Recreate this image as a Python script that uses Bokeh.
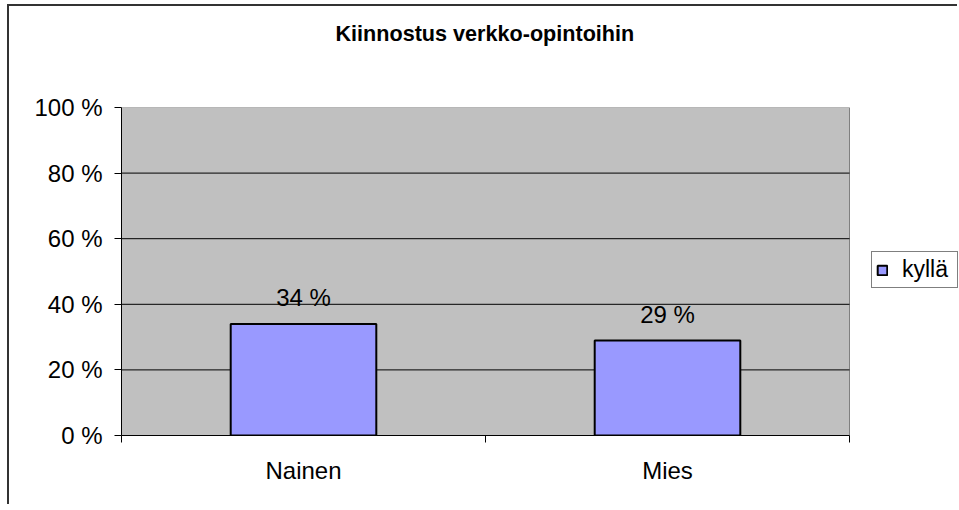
from bokeh.plotting import figure
from bokeh.models import (Range1d, LinearAxis, FixedTicker, Title, BoxAnnotation,
                          PrintfTickFormatter, Legend, LegendItem, ColumnDataSource)
from bokeh.core.properties import value
from bokeh.embed import file_html
from bokeh.resources import INLINE

title_text = "Kiinnostus verkko-opintoihin"
categories = ["Nainen", "Mies"]
values = [34, 29]
series_name = "kyllä"
y_ticks = [0, 20, 40, 60, 80, 100]
y_max = 100

FONT = "Liberation Sans"

# layout constants (pixels)
W, H = 950, 500
LEFT, TOP, BOTTOM = 112, 101, 71
PLOT_W = 728                      # width of the grey plot area
FRAME_W = W - LEFT                # frame reaches the right edge (legend lives inside)

n = len(categories)
xpos = [i + 0.5 for i in range(n)]
source = ColumnDataSource(dict(x=xpos, val=values,
                               lab=[f"{v} %" for v in values]))
grid_vals = y_ticks[1:-1]
grid_src = ColumnDataSource(dict(x0=[0] * len(grid_vals), x1=[n] * len(grid_vals),
                                 y=grid_vals))

p = figure(x_range=Range1d(0, n * FRAME_W / PLOT_W), y_range=Range1d(0, y_max),
           width=W, height=H, output_backend="svg", toolbar_location=None,
           x_axis_location=None, y_axis_location=None, title=None,
           min_border_left=LEFT, min_border_right=0, min_border_top=TOP,
           min_border_bottom=BOTTOM)
p.styles = {"margin-top": "4px", "margin-left": "7px",
            "border-top": "2px solid #333", "border-left": "2px solid #333"}

p.background_fill_color = "white"
p.border_fill_color = "white"
p.outline_line_color = None

# grey plot area
p.add_layout(BoxAnnotation(left=0, right=n, bottom=0, top=y_max, level="image",
                           fill_color="#C0C0C0", fill_alpha=1,
                           line_color="#808080", line_width=1, line_alpha=1))

# invisible spacer between plot area and title (closest to the plot area)
spacer = LinearAxis(ticker=FixedTicker(ticks=[0]), major_label_overrides={0: ""})
spacer.axis_line_color = None
spacer.major_tick_out = 57
spacer.major_tick_in = 0
spacer.major_tick_line_color = "white"
spacer.minor_tick_out = 0
spacer.minor_tick_in = 0
spacer.major_label_standoff = 0
p.add_layout(spacer, "above")

title = Title(text=title_text, align="left", offset=214, text_font=FONT,
              text_font_size="21.6px", text_font_style="bold", text_color="black",
              standoff=10)
p.add_layout(title, "above")

# y axis
yax = LinearAxis(ticker=FixedTicker(ticks=y_ticks),
                 formatter=PrintfTickFormatter(format="%d %%"))
yax.axis_line_color = "black"
yax.axis_line_width = 1
yax.major_tick_out = 7
yax.major_tick_in = 0
yax.major_tick_line_color = "black"
yax.minor_tick_out = 0
yax.minor_tick_in = 0
yax.major_label_standoff = 12
yax.major_label_text_font = FONT
yax.major_label_text_font_size = "24px"
yax.major_label_text_color = "black"
p.add_layout(yax, "left")

# x tick axis at category boundaries (no labels)
bounds = list(range(n + 1))
tax = LinearAxis(ticker=FixedTicker(ticks=bounds), bounds=(0, n),
                 major_label_overrides={b: "" for b in bounds})
tax.axis_line_color = "black"
tax.major_tick_out = 7
tax.major_tick_in = 0
tax.major_tick_line_color = "black"
tax.minor_tick_out = 0
tax.minor_tick_in = 0
tax.major_label_standoff = 0
p.add_layout(tax, "below")

# category label axis
cax = LinearAxis(ticker=FixedTicker(ticks=xpos),
                 major_label_overrides={x: c for x, c in zip(xpos, categories)})
cax.axis_line_color = None
cax.major_tick_out = 0
cax.major_tick_in = 0
cax.minor_tick_out = 0
cax.minor_tick_in = 0
cax.major_label_standoff = 14
cax.major_label_text_font = FONT
cax.major_label_text_font_size = "24px"
cax.major_label_text_color = "black"
p.add_layout(cax, "below")

# horizontal gridlines limited to the plot area
p.xgrid.visible = False
p.ygrid.visible = False
p.segment(x0="x0", x1="x1", y0="y", y1="y", source=grid_src,
          line_color="black", line_width=1, level="underlay")

bars = p.vbar(x="x", top="val", width=0.4, source=source,
              fill_color="#9999FF", line_color="black", line_width=2)

p.text(x="x", y="val", text="lab", source=source, text_align="center",
       text_baseline="alphabetic", y_offset=-26, text_font=value(FONT),
       text_font_size="24px", text_color="black")

legend = Legend(items=[LegendItem(label=series_name, renderers=[bars])],
                location=(PLOT_W + 22, 147), margin=0, padding=4, spacing=0,
                glyph_width=12, glyph_height=12, label_standoff=14, label_width=51,
                border_line_color="black", border_line_width=1,
                background_fill_color="white", background_fill_alpha=1,
                label_text_font=FONT, label_text_font_size="23px",
                label_text_color="black")
p.add_layout(legend, "center")

open("out.html", "w").write(file_html(p, INLINE))
